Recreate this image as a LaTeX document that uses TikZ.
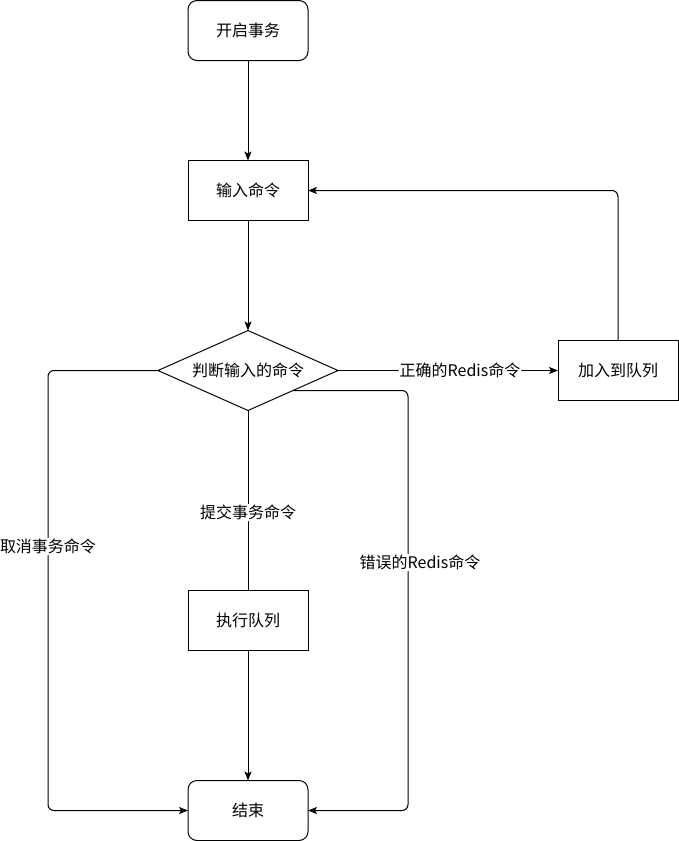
\documentclass[tikz,border=0pt]{standalone}
\usepackage{fontspec}
\setmainfont{Noto Sans CJK SC}
\usepackage{tikz}
\usetikzlibrary{positioning,shapes.geometric,arrows.meta}
\tikzset{
  stepbox/.style={draw,line width=1pt,outer sep=0pt,minimum width=120pt,minimum height=60pt,font=\fontsize{16}{19}\selectfont},
  termbox/.style={stepbox,rounded corners=9pt},
  decbox/.style={draw,line width=1pt,outer sep=0pt,diamond,aspect=2.25,inner sep=0pt,minimum width=180pt,minimum height=80pt,font=\fontsize{16}{19}\selectfont},
  flow/.style={line width=1pt,rounded corners=6pt},
  lbl/.style={fill=white,inner sep=1pt,font=\fontsize{16}{19}\selectfont}
}

\begin{document}
\begin{tikzpicture}[x=1pt,y=-1pt,>={Stealth[length=9pt,width=7pt,inset=2pt]}]
\useasboundingbox (0,0) rectangle (679,841);
\node[termbox] (start) at (248,30.5) {开启事务};
\node[stepbox,below=100pt of start] (input) {输入命令};
\node[decbox,below=110pt of input] (check) {判断输入的命令};
\node[stepbox,right=220pt of check] (queue) {加入到队列};
\node[stepbox,below=180pt of check] (exec) {执行队列};
\node[termbox,below=130pt of exec] (finish) {结束};
\draw[flow,->] (start)--(input);
\draw[flow,->] (input)--(check);
\draw[flow,->] (check)--node[lbl,xshift=12pt]{正确的Redis命令} (queue);
\draw[flow,->] (queue.north) |- (input.east);
\draw[flow] (check)--node[lbl,pos=0.567]{提交事务命令} (exec);
\draw[flow,->] (exec)--(finish);
\draw[flow,->] (check.west) -- ++(-110pt,0) |- node[lbl,pos=0.2]{取消事务命令} (finish.west);
\draw[flow,->] (check.south east) -- ++(115pt,0) |- node[lbl,pos=0.205,xshift=12pt]{错误的Redis命令} (finish.east);
\end{tikzpicture}
\end{document}
